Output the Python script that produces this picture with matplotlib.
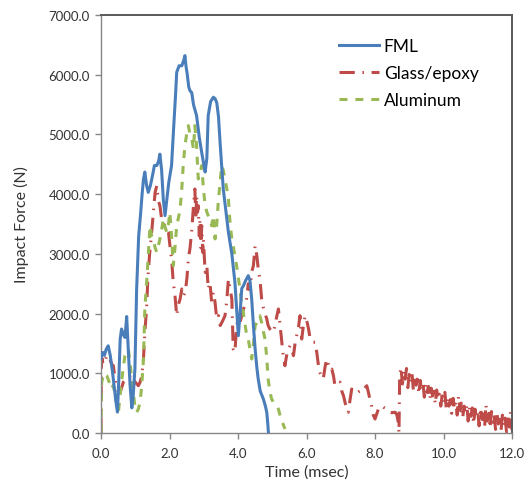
import numpy as np
import matplotlib.pyplot as plt

# --- data ---
fml_t = [0, 0.05, 0.1, 0.15, 0.21, 0.27, 0.33, 0.38, 0.43, 0.48, 0.52, 0.56, 0.6, 0.65, 0.7, 0.75,
         0.8, 0.85, 0.9, 0.94, 0.99, 1.04, 1.1, 1.16, 1.2, 1.24, 1.28, 1.33, 1.38, 1.44, 1.5, 1.56,
         1.63, 1.68, 1.72, 1.77, 1.82, 1.87, 1.92, 1.98, 2.06, 2.12, 2.18, 2.21, 2.28, 2.36, 2.42,
         2.45, 2.48, 2.52, 2.56, 2.6, 2.65, 2.7, 2.79, 2.87, 2.94, 3.0, 3.04, 3.09, 3.13, 3.2, 3.28,
         3.33, 3.38, 3.43, 3.47, 3.52, 3.57, 3.65, 3.72, 3.82, 3.91, 3.96, 4.01, 4.06, 4.11, 4.16,
         4.22, 4.3, 4.35, 4.4, 4.45, 4.5, 4.55, 4.59, 4.65, 4.74, 4.8, 4.84, 4.87, 4.89]
fml_f = [1250, 1350, 1300, 1400, 1460, 1300, 1050, 800, 550, 350, 900, 1574, 1742, 1650, 1600, 1950,
         1350, 792, 420, 625, 1070, 2400, 3300, 3700, 4000, 4250, 4370, 4150, 4030, 4140, 4300, 4480,
         4480, 4550, 4670, 4400, 3900, 3640, 3900, 4200, 4480, 5100, 5700, 6040, 6150, 6150, 6250,
         6320, 6150, 6000, 5800, 5730, 5700, 5500, 5315, 4950, 4700, 4500, 4370, 4600, 5315, 5550, 5623,
         5600, 5530, 5300, 4925, 4500, 4087, 3700, 3361, 3000, 2524, 2077, 1630, 2000, 2420, 2467,
         2550, 2635, 2550, 2245, 1800, 1407, 1100, 905, 700, 570, 450, 347, 150, 0]

alu_t = [0, 0.02, 0.08, 0.17, 0.24, 0.31, 0.36, 0.41, 0.46, 0.51, 0.55, 0.6, 0.65, 0.7, 0.75, 0.8,
         0.84, 0.89, 0.94, 0.99, 1.04, 1.09, 1.14, 1.19, 1.24, 1.28, 1.33, 1.38, 1.43, 1.48, 1.53,
         1.58, 1.63, 1.68, 1.72, 1.77, 1.82, 1.87, 1.92, 1.97, 2.01, 2.06, 2.11, 2.16, 2.21, 2.26,
         2.31, 2.36, 2.4, 2.45, 2.5, 2.55, 2.6, 2.65, 2.7, 2.74, 2.79, 2.84, 2.89, 2.94, 2.99, 3.04,
         3.09, 3.13, 3.18, 3.23, 3.28, 3.33, 3.38, 3.43, 3.48, 3.52, 3.57, 3.62, 3.67, 3.72, 3.77,
         3.82, 3.87, 3.91, 3.96, 4.01, 4.06, 4.11, 4.16, 4.21, 4.25, 4.3, 4.35, 4.4, 4.45, 4.5, 4.55,
         4.6, 4.64, 4.69, 4.74, 4.79, 4.84, 4.88, 4.93, 4.98, 5.03, 5.08, 5.13, 5.18, 5.23, 5.28,
         5.33, 5.37]
alu_f = [0, 850, 1000, 960, 850, 737, 800, 625, 500, 347, 600, 850, 1100, 1295, 1350, 1407, 1200,
         950, 682, 450, 347, 400, 514, 800, 1240, 2077, 2500, 2970, 3472, 3300, 3250, 3100, 3027,
         3150, 3250, 3400, 3585, 3450, 3361, 3500, 3697, 3300, 2802, 3100, 3472, 3600, 3752, 4100,
         4477, 4812, 5000, 5147, 5000, 4925, 4757, 5147, 4812, 4254, 4350, 4477, 4100, 3807, 3700,
         3640, 3550, 3472, 3640, 3250, 3500, 3920, 4200, 4477, 4400, 4254, 4100, 3920, 3500, 3250,
         3100, 2970, 2800, 2600, 2400, 2132, 2000, 1800, 1650, 1574, 1400, 1240, 1500, 1797, 1850,
         1900, 1965, 1850, 1700, 1574, 1250, 905, 700, 570, 520, 480, 458, 400, 290, 200, 130, 67]

ge_t = [0, 0.01, 0.03, 0.06, 0.1, 0.14, 0.19, 0.24, 0.28, 0.32, 0.36, 0.41, 0.46, 0.5, 0.55, 0.6,
        0.65, 0.7, 0.75, 0.8, 0.85, 0.9, 0.95, 1.0, 1.05, 1.09, 1.14, 1.19, 1.24, 1.28, 1.33, 1.37,
        1.42, 1.47, 1.53, 1.56, 1.58, 1.63, 1.67, 1.72, 1.77, 1.82, 1.87, 1.92, 1.97, 2.02, 2.06,
        2.11, 2.16, 2.21, 2.26, 2.31, 2.36, 2.41, 2.46, 2.51, 2.55, 2.6, 2.65, 2.7, 2.74, 2.77, 2.79,
        2.82, 2.84, 2.87, 2.89, 2.92, 2.94, 2.97, 2.99,
        3.04, 3.09, 3.13, 3.18, 3.23, 3.28, 3.33, 3.38, 3.43, 3.48, 3.53, 3.57, 3.62, 3.67, 3.72,
        3.77, 3.82, 3.86, 3.91, 3.96, 4.01, 4.06, 4.11, 4.16, 4.21, 4.25, 4.3, 4.35, 4.4, 4.45, 4.5,
        4.55, 4.6, 4.64, 4.69, 4.74, 4.79, 4.84, 4.88, 4.93, 4.98, 5.03, 5.08, 5.13, 5.18, 5.23,
        5.28, 5.32, 5.37, 5.42, 5.47, 5.52, 5.57, 5.62, 5.67, 5.72, 5.76, 5.81, 5.86, 5.91, 5.96,
        6.02, 6.06, 6.1, 6.15, 6.2, 6.25, 6.3, 6.35, 6.4, 6.45, 6.49, 6.54, 6.59, 6.64, 6.69, 6.74,
        6.79, 6.83, 6.88, 6.93, 6.98, 7.03, 7.08, 7.13, 7.18, 7.22, 7.27, 7.32, 7.37, 7.42, 7.47,
        7.52, 7.56, 7.61, 7.66, 7.71, 7.76, 7.8, 7.85, 7.9, 7.95, 8.0, 8.05, 8.1, 8.15, 8.2, 8.25,
        8.29, 8.34, 8.39, 8.44, 8.49, 8.54, 8.59, 8.64, 8.68, 8.7,
        8.72, 8.76, 8.8, 8.84, 8.88, 8.92, 8.96, 9.0, 9.04, 9.08, 9.12, 9.16, 9.2, 9.24, 9.28, 9.32,
        9.36, 9.4, 9.44, 9.48, 9.52, 9.56, 9.6, 9.64, 9.68, 9.72, 9.76, 9.8, 9.84, 9.88, 9.92, 9.96,
        10.0, 10.04, 10.08, 10.12, 10.16, 10.2, 10.24, 10.28, 10.32, 10.36, 10.4, 10.44, 10.48,
        10.52, 10.56, 10.6, 10.64, 10.68, 10.72, 10.76, 10.8, 10.84, 10.88, 10.92, 10.96, 11.0,
        11.04, 11.08, 11.12, 11.16, 11.2, 11.24, 11.28, 11.32, 11.36, 11.4, 11.44, 11.48, 11.52,
        11.56, 11.6, 11.64, 11.68, 11.72, 11.76, 11.8, 11.84, 11.88, 11.92, 11.96, 12.0]
ge_f = [0, 1100, 1250, 1150, 1184, 1250, 1300, 1295, 1200, 1150, 1127, 900, 737, 700, 682, 750,
        850, 880, 905, 930, 960, 980, 900, 850, 820, 792, 850, 960, 1240, 1686, 2077, 2600,
        3000, 3300, 3697, 3900, 4032, 4142, 3900, 3807, 3585, 3500, 3472, 3400, 3361, 3100, 2914,
        2524, 2300, 1965, 2150, 2245, 2412, 2300, 2357, 2600, 2914, 3100, 3400, 3800, 4087, 3600,
        3975, 3700, 3807, 3300, 3585, 3100, 3472, 3027, 3250,
        2690, 2802, 2412, 2524, 2200, 2357, 2189, 1910, 1965, 1800, 1853, 1900, 1965, 2200, 2580,
        2412, 2245, 1407, 1352, 1800, 1900, 1853, 1965, 2077, 2150, 2245, 2500, 2400, 2700, 2802,
        3137, 2970, 2700, 2580, 2245, 2100, 2000, 1910, 1800, 1742, 1700, 1686, 1800, 1950, 2077,
        1797, 1500, 1295, 1127, 1300, 1407, 1462, 1400, 1295, 1519, 1650, 1742, 1965, 1574, 1800,
        1965,
        1850, 1742, 1600, 1574, 1520, 1519, 1350, 1127, 1000, 950, 905, 1100, 1240, 1150, 1050,
        1070, 950, 792, 820, 850, 850, 700, 625, 500, 400, 347, 550, 737, 700, 682, 670, 690, 700,
        682, 720, 760, 792, 700, 570, 450, 300, 234, 320, 402, 430, 458, 430, 420, 380, 360, 347,
        340, 345, 347, 300, 179, 0,
        950, 1100, 820, 1050, 900, 1080, 760, 980, 850, 1000, 720, 950, 800, 900, 650, 880,
        700, 850, 600, 820, 680, 780, 560, 750, 620, 700, 480, 720, 560, 650, 450, 620,
        500, 680, 420, 600, 450, 560, 330, 580, 400, 520, 300, 620, 380,
        500, 250, 450, 330, 480, 200, 440, 280, 420, 150, 400, 250, 380,
        120, 420, 230, 350, 100, 480, 200, 330, 80, 360, 180, 300, 60,
        330, 150, 280, 40, 300, 120, 250, 20, 280, 100, 360, 50]

x_ticks = [0, 2, 4, 6, 8, 10, 12]
y_ticks = [0, 1000, 2000, 3000, 4000, 5000, 6000, 7000]

plt.rcParams['font.family'] = ['Lato', 'DejaVu Sans']

fig = plt.figure(figsize=(5.24, 4.89), dpi=100)
ax = fig.add_axes([101 / 524, 1 - 434 / 489, 411 / 524, 418 / 489])

ax.plot(fml_t, fml_f, color='#4A7EBB', lw=2.2, label='FML', zorder=3)
ax.plot(ge_t, ge_f, color='#BE4B48', lw=2.2, linestyle=(0, (5, 2.5, 0.5, 2.5)),
        label='Glass/epoxy', zorder=2)
ax.plot(alu_t, alu_f, color='#98B954', lw=2.2, linestyle=(0, (2.6, 2.6)),
        label='Aluminum', zorder=2)

ax.set_xlim(0, 12)
ax.set_ylim(0, 7000)
ax.set_xticks(x_ticks)
ax.set_yticks(y_ticks)
ax.set_xticklabels([f"{v:.1f}" for v in x_ticks])
ax.set_yticklabels([f"{v:.1f}" for v in y_ticks])
ax.tick_params(axis='both', direction='out', length=4, width=1, color='#868686',
               labelsize=9.5, labelcolor='#333333')
ax.tick_params(axis='y', pad=4)
ax.tick_params(axis='x', pad=6)

for side in ['left', 'bottom']:
    ax.spines[side].set_color('#868686')
    ax.spines[side].set_linewidth(1.0)
for side in ['top', 'right']:
    ax.spines[side].set_color('#5a5a5a')
    ax.spines[side].set_linewidth(1.4)

ax.set_xlabel('Time (msec)', fontsize=11.5, color='#333333', labelpad=4)
ax.set_ylabel('Impact Force (N)', fontsize=11.5, color='#333333', labelpad=14)

ax.legend(loc='upper left', bbox_to_anchor=(330 / 524, 1 - 30 / 489),
          bbox_transform=fig.transFigure, frameon=False, fontsize=12.5,
          handlelength=2.3, handletextpad=0.3, labelspacing=0.65, borderpad=0)

plt.savefig('out.png', dpi=100)
